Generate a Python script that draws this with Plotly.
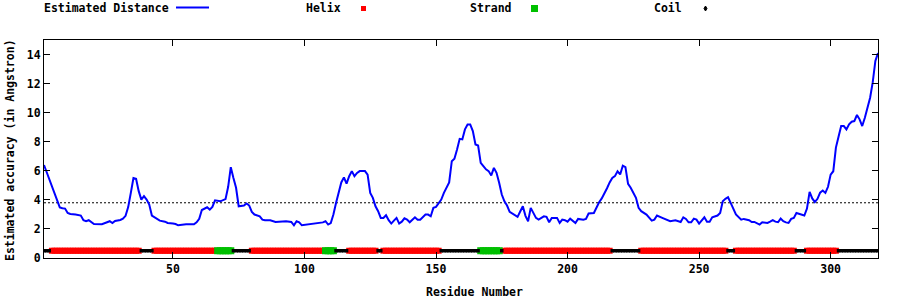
import plotly.graph_objects as go

# ---------------- data ----------------
RESIDUE = [1, 2, 3, 4, 5, 6, 7, 8, 9, 10, 11, 13, 15, 16, 17, 18, 19, 20, 23, 25,
           26, 27, 28, 30, 31, 32, 33, 34, 35, 36, 37, 38, 39, 40, 41, 42, 43, 44, 45, 47,
           48, 50, 51, 52, 55, 58, 59, 60, 61, 63, 64, 65, 66, 68, 70, 71, 72, 73, 74, 75,
           77, 78, 79, 80, 81, 83, 84, 85, 87, 89, 91, 93, 95, 96, 97, 98, 99, 102, 104, 106,
           107, 108, 109, 110, 111, 112, 113, 114, 115, 116, 117, 118, 119, 120, 121, 123, 124, 125, 126, 127,
           128, 129, 130, 131, 132, 133, 134, 135, 136, 137, 138, 139, 140, 142, 143, 144, 146, 147, 148, 149,
           150, 152, 153, 154, 155, 156, 157, 158, 159, 160, 161, 162, 163, 164, 165, 166, 167, 168, 169, 170,
           171, 172, 173, 174, 175, 176, 177, 178, 179, 180, 181, 182, 183, 184, 185, 186, 187, 188, 189, 191,
           192, 193, 194, 196, 197, 198, 199, 200, 201, 203, 204, 206, 207, 208, 210, 211, 212, 213, 214, 215,
           216, 217, 218, 219, 220, 221, 222, 223, 224, 225, 226, 227, 228, 230, 231, 232, 233, 234, 236, 238,
           239, 241, 243, 244, 245, 246, 247, 248, 249, 250, 251, 252, 253, 254, 255, 257, 258, 259, 260, 261,
           262, 263, 264, 266, 267, 269, 270, 271, 273, 274, 276, 277, 278, 279, 280, 281, 282, 283, 284, 285,
           286, 287, 288, 289, 290, 291, 292, 293, 294, 295, 296, 297, 298, 299, 300, 301, 302, 303, 304, 305,
           306, 307, 308, 309, 310, 311, 312, 313, 314, 315, 316, 317, 318]
DISTANCE = [6.40, 5.90, 5.40, 4.89, 4.40, 3.95, 3.48, 3.42, 3.40, 3.10, 3.03, 2.99, 2.92, 2.60, 2.53, 2.60, 2.46, 2.34, 2.32, 2.48,
            2.53, 2.41, 2.55, 2.62, 2.70, 2.90, 3.50, 4.48, 5.50, 5.45, 4.60, 4.02, 4.25, 4.02, 3.68, 2.92, 2.80, 2.73, 2.57, 2.50,
            2.41, 2.37, 2.34, 2.25, 2.32, 2.32, 2.46, 2.70, 3.30, 3.49, 3.33, 3.52, 3.97, 3.90, 4.05, 4.90, 6.25, 5.50, 4.83, 3.56,
            3.61, 3.75, 3.61, 3.17, 2.99, 2.87, 2.64, 2.60, 2.60, 2.48, 2.53, 2.53, 2.48, 2.25, 2.53, 2.46, 2.25, 2.32, 2.34, 2.41,
            2.45, 2.53, 2.30, 2.40, 2.99, 3.79, 4.60, 5.20, 5.55, 5.12, 5.63, 5.98, 5.63, 5.85, 5.98, 5.98, 5.74, 4.48, 4.14, 3.56,
            3.22, 2.76, 2.76, 2.94, 2.60, 2.37, 2.57, 2.76, 2.37, 2.50, 2.73, 2.64, 2.46, 2.80, 2.64, 2.64, 2.99, 2.99, 2.87, 3.45,
            3.52, 4.02, 4.48, 4.83, 5.20, 6.66, 6.83, 7.47, 8.20, 8.16, 8.85, 9.19, 9.19, 8.73, 7.81, 7.74, 6.55, 6.32, 6.10, 5.98,
            5.68, 6.20, 5.86, 5.17, 4.37, 3.90, 3.61, 3.17, 3.06, 2.90, 2.83, 3.20, 3.56, 2.90, 2.53, 3.45, 3.10, 2.76, 2.64, 2.87,
            2.83, 2.46, 2.76, 2.76, 2.41, 2.64, 2.60, 2.50, 2.71, 2.41, 2.69, 2.64, 2.69, 3.06, 3.10, 3.50, 3.84, 4.10, 4.40, 4.80,
            5.20, 5.51, 5.63, 5.97, 5.75, 6.35, 6.25, 5.10, 4.83, 4.48, 4.14, 3.45, 3.22, 2.99, 2.76, 2.57, 2.64, 2.92, 2.76, 2.64,
            2.53, 2.60, 2.48, 2.80, 2.69, 2.46, 2.46, 2.71, 2.64, 2.37, 2.60, 2.80, 2.50, 2.50, 2.80, 2.92, 3.10, 3.91, 4.07, 4.18,
            3.79, 3.40, 3.00, 2.64, 2.69, 2.60, 2.48, 2.48, 2.30, 2.46, 2.41, 2.50, 2.60, 2.50, 2.46, 2.71, 2.53, 2.45, 2.41, 2.69,
            2.76, 3.10, 3.05, 3.00, 2.92, 3.40, 4.55, 4.10, 3.84, 4.07, 4.50, 4.64, 4.48, 4.90, 5.74, 5.97, 7.60, 8.34, 9.08, 9.08,
            8.85, 9.20, 9.38, 9.42, 9.84, 9.54, 9.08, 9.65, 10.34, 11.03, 12.10, 13.56, 14.10]

# secondary structure segments: (type, first residue, last residue)
SS_TYPE = ["C", "H", "C", "H", "E", "C", "H", "E", "C", "H", "C", "H", "C", "E", "C", "H", "C", "H", "C", "H", "C", "H", "C"]
SS_START = [1, 4, 38, 43, 67, 73, 80, 108, 112, 117, 128, 130, 152, 167, 175, 176, 217, 228, 261, 264, 287, 291, 303]
SS_END = [3, 37, 42, 66, 72, 79, 107, 111, 116, 127, 129, 151, 166, 174, 175, 216, 227, 260, 263, 286, 290, 302, 318]
SS_LEVEL = 0.5
THRESHOLD = 3.8

X_TICKS = [50, 100, 150, 200, 250, 300]
Y_TICKS = [0, 2, 4, 6, 8, 10, 12, 14]

# ---------------- figure ----------------
W, H = 900, 300
ML, MR, MT, MB = 44, 22, 40, 42
PW, PH = W - ML - MR, H - MT - MB
FONT = dict(family="DejaVu Sans Mono", size=11.5, color="black", weight="bold")


def px_x(px):
    return (px - ML) / PW


def px_y(py):
    return (H - MB - py) / PH


ss_res = {"H": [], "E": [], "C": []}
for t, a, b in zip(SS_TYPE, SS_START, SS_END):
    ss_res[t].extend(range(a, b + 1))

fig = go.Figure()
fig.add_trace(go.Scatter(x=RESIDUE, y=DISTANCE, mode="lines",
                         line=dict(color="#0000ff", width=2), name="Estimated Distance"))
fig.add_trace(go.Scatter(x=ss_res["H"], y=[SS_LEVEL] * len(ss_res["H"]), mode="markers",
                         marker=dict(symbol="square", size=6, color="#ff0000", line=dict(width=0)),
                         name="Helix"))
fig.add_trace(go.Scatter(x=ss_res["E"], y=[SS_LEVEL] * len(ss_res["E"]), mode="markers",
                         marker=dict(symbol="square", size=7, color="#00c000", line=dict(width=0)),
                         name="Strand"))
fig.add_trace(go.Scatter(x=ss_res["C"], y=[SS_LEVEL] * len(ss_res["C"]), mode="markers",
                         marker=dict(symbol="square", size=3.5, color="black", line=dict(width=0)),
                         name="Coil"))

axis_common = dict(showgrid=False, zeroline=False, showline=True, linecolor="black", linewidth=1,
                   mirror="allticks", ticks="inside", ticklen=6, tickcolor="black", tickfont=FONT)
fig.update_xaxes(range=[1, 318], tickvals=X_TICKS, **axis_common)
fig.update_yaxes(range=[0, 15], tickvals=Y_TICKS, **axis_common)

annotations = [
    dict(text="Residue Number", x=px_x(474), y=px_y(292)),
    dict(text="Estimated accuracy (in Angstron)", x=px_x(10), y=px_y(150), textangle=-90),
    dict(text="Estimated Distance", x=px_x(106), y=px_y(8.5)),
    dict(text="Helix", x=px_x(323), y=px_y(8.5)),
    dict(text="Strand", x=px_x(490.5), y=px_y(8.5)),
    dict(text="Coil", x=px_x(668), y=px_y(8.5)),
]
for a in annotations:
    a.update(xref="paper", yref="paper", showarrow=False, font=FONT,
             xanchor="center", yanchor="middle")

shapes = [
    dict(type="line", xref="paper", yref="y", x0=0, x1=1, y0=THRESHOLD, y1=THRESHOLD,
         line=dict(color="black", width=1, dash="2px,2px"), layer="below"),
    dict(type="rect", xref="paper", yref="paper",
         x0=px_x(176), x1=px_x(209), y0=px_y(6.5), y1=px_y(8.5),
         fillcolor="#0000ff", line=dict(width=0)),
    dict(type="rect", xref="paper", yref="paper",
         x0=px_x(361), x1=px_x(366), y0=px_y(6), y1=px_y(11),
         fillcolor="#ff0000", line=dict(width=0)),
    dict(type="rect", xref="paper", yref="paper",
         x0=px_x(531), x1=px_x(538), y0=px_y(5), y1=px_y(12),
         fillcolor="#00c000", line=dict(width=0)),
    dict(type="path", xref="paper", yref="paper",
         path="M {0},{1} L {2},{3} L {0},{4} L {5},{3} Z".format(
             px_x(705.5), px_y(6), px_x(707), px_y(8.5), px_y(11), px_x(704)),
         fillcolor="black", line=dict(color="black", width=1)),
]

fig.update_layout(width=W, height=H, margin=dict(l=ML, r=MR, t=MT, b=MB),
                  paper_bgcolor="white", plot_bgcolor="white", showlegend=False,
                  font=FONT, annotations=annotations, shapes=shapes)

fig.write_html("out.html")
